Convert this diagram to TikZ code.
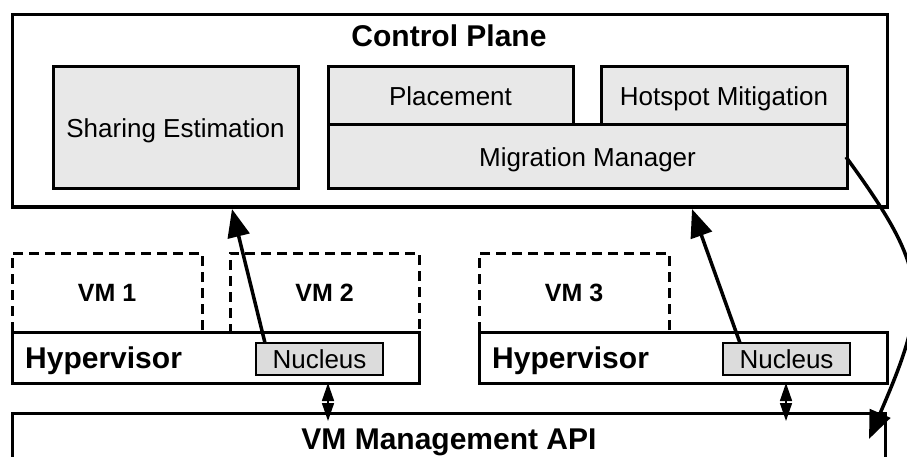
\documentclass[tikz,border=0pt]{standalone}
\usepackage{fontspec}
\setmainfont{Liberation Sans}
\usetikzlibrary{arrows.meta}
\definecolor{boxgray}{RGB}{232,232,232}
\definecolor{nucgray}{RGB}{220,220,220}
\begin{document}
\begin{tikzpicture}[x=1pt,y=-1pt,
  frame/.style={draw=black,line width=3pt,rectangle,inner sep=0pt},
  grayframe/.style={frame,fill=boxgray,font=\fontsize{26}{30}\selectfont,text height=19pt,text depth=0pt},
  vmbox/.style={draw=black,line width=3pt,dash pattern=on 10pt off 6pt,rectangle,inner sep=0pt,
    font=\bfseries\fontsize{25}{30}\selectfont,text height=18pt,text depth=0pt},
  hypbox/.style={frame,fill=white},
  nucbox/.style={frame,fill=nucgray,line width=2.5pt,font=\fontsize{26}{30}\selectfont,text height=19pt,text depth=0pt},
  boldlabel/.style={font=\bfseries\fontsize{30}{34}\selectfont,inner sep=0pt,text height=21.5pt,text depth=0pt},
  bigarrow/.style={line width=3.5pt,-{Triangle[length=28pt,width=22pt]}},
  smallarrow/.style={line width=1.5pt,{Triangle[length=18pt,width=12pt]}-{Triangle[length=18pt,width=12pt]}}
]
\useasboundingbox (0,0) rectangle (907,457);
\clip (0,0) rectangle (907,457);
\fill[white] (0,0) rectangle (907,457);

% Control plane
\node[frame,minimum width=875pt,minimum height=192pt] (cp) at (449.5,111) {};
\node[boldlabel] (cptitle) at (449,35.5) {Control Plane};
\node[grayframe,minimum width=245pt,minimum height=122pt] (share) at (175.5,128) {Sharing Estimation};
\node[grayframe,minimum width=245pt,minimum height=58pt] (place) at (450.5,96) {Placement};
\node[grayframe,minimum width=246pt,minimum height=58pt] (hot) at (724,96) {Hotspot Mitigation};
\node[grayframe,minimum width=519pt,minimum height=64pt] (mig) at (587.5,157) {Migration Manager};

% VMs
\node[vmbox,minimum width=190pt,minimum height=79pt] (vm1) at (107,292.5) {VM 1};
\node[vmbox,minimum width=189pt,minimum height=79pt] (vm2) at (324.5,292.5) {VM 2};
\node[vmbox,minimum width=190pt,minimum height=79pt] (vm3) at (574,292.5) {VM 3};

% Hypervisors
\node[hypbox,minimum width=407pt,minimum height=51pt] (hyp1) at (215.5,357.5) {};
\node[hypbox,minimum width=408pt,minimum height=51pt] (hyp2) at (683,357.5) {};
\node[boldlabel,anchor=west] (hyp1t) at (25,358) {Hypervisor};
\node[boldlabel,anchor=west] (hyp2t) at (492,358) {Hypervisor};
\node[nucbox,minimum width=127pt,minimum height=32pt] (nuc1) at (319.5,359) {Nucleus};
\node[nucbox,minimum width=127pt,minimum height=32pt] (nuc2) at (786.5,359) {Nucleus};

% API
\draw[line width=3pt] (12,413) rectangle (885,540);
\node[boldlabel] (api) at (449,439) {VM Management API};

% Arrow coordinates
\coordinate (n1src) at (265,343);
\coordinate (n1dst) at (232,209);
\coordinate (n2src) at (740,343);
\coordinate (n2dst) at (692,209);
\coordinate (migsrc) at (846,157);
\coordinate (apidst) at (869,439);
\coordinate (h1b) at (328,383);
\coordinate (a1t) at (328,421);
\coordinate (h2b) at (786,383);
\coordinate (a2t) at (786,421);

\draw[bigarrow] (n1src) -- (n1dst);
\draw[bigarrow] (n2src) -- (n2dst);
\draw[bigarrow] (migsrc) .. controls (930,272) and (930,298) .. (apidst);
\draw[smallarrow] (h1b) -- (a1t);
\draw[smallarrow] (h2b) -- (a2t);
\end{tikzpicture}
\end{document}
